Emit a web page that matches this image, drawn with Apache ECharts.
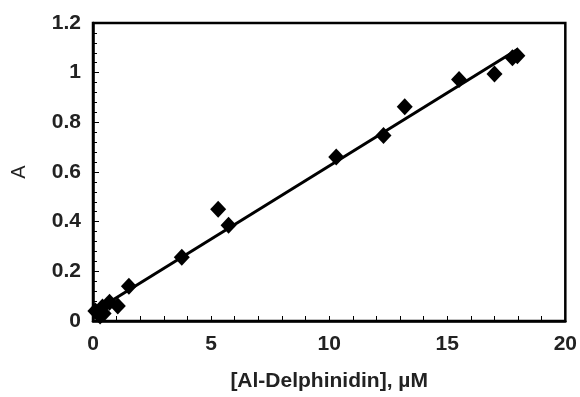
<!DOCTYPE html>
<html><head><meta charset="utf-8">
<script src="https://cdn.jsdelivr.net/npm/echarts@6/dist/echarts.min.js"></script>
<style>html,body{margin:0;padding:0;background:#fff}#c{width:580px;height:397px}</style>
</head><body><div id="c"></div>
<script>
const concX = [0.1, 0.3, 0.45, 0.4, 0.7, 1.05, 1.52, 3.76, 5.3, 5.74, 10.3, 12.3, 13.2, 15.5, 17.0, 17.76, 17.97];
const absY  = [0.04, 0.02, 0.03, 0.056, 0.076, 0.06, 0.14, 0.257, 0.45, 0.386, 0.66, 0.747, 0.863, 0.972, 0.995, 1.06, 1.068];
const fitX = [0.1, 18.0];
const fitY = [0.041, 1.095];
const xTicks = [0, 5, 10, 15, 20];
const yTicks = [0, 0.2, 0.4, 0.6, 0.8, 1, 1.2];

const chart = echarts.init(document.getElementById('c'), null, {renderer: 'canvas'});
const font = "'Liberation Sans', Arial, sans-serif";
chart.setOption({
  animation: false,
  grid: {left: 93, right: 13, top: 23, bottom: 75, show: true, borderColor: '#000', borderWidth: 2.5, backgroundColor: 'transparent'},
  xAxis: {
    type: 'value', min: xTicks[0], max: xTicks[xTicks.length-1], interval: 5,
    name: '[Al-Delphinidin], µM', nameLocation: 'middle', nameGap: 50,
    nameTextStyle: {fontFamily: font, fontSize: 21, fontWeight: 'bold', color: '#222'},
    axisLine: {show: true, lineStyle: {color: '#000', width: 2.5}},
    axisTick: {show: true, inside: true, length: 5, lineStyle: {color: '#000', width: 1}},
    minorTick: {show: true, splitNumber: 5, length: 5, lineStyle: {color: '#000', width: 1}},
    axisLabel: {fontFamily: font, fontSize: 21, fontWeight: 'bold', color: '#222', margin: 13,
      formatter: v => xTicks.includes(v) ? String(v) : ''},
    splitLine: {show: false}
  },
  yAxis: {
    type: 'value', min: yTicks[0], max: yTicks[yTicks.length-1], interval: 0.2,
    name: 'A', nameLocation: 'middle', nameGap: 64, nameRotate: 90,
    nameTextStyle: {fontFamily: font, fontSize: 20, color: '#222'},
    axisLine: {show: true, lineStyle: {color: '#000', width: 2.5}},
    axisTick: {show: true, inside: true, length: 6, lineStyle: {color: '#000', width: 1}},
    minorTick: {show: true, splitNumber: 5, length: 4, lineStyle: {color: '#000', width: 1}},
    axisLabel: {fontFamily: font, fontSize: 21, fontWeight: 'bold', color: '#222', margin: 12,
      formatter: v => { const r = Math.round(v*10)/10; return yTicks.includes(r) ? String(r) : ''; }},
    splitLine: {show: false}
  },
  series: [
    {type: 'line', data: fitX.map((x, i) => [x, fitY[i]]), symbol: 'none',
     lineStyle: {color: '#000', width: 3}, z: 2},
    {type: 'scatter', data: concX.map((x, i) => [x, absY[i]]), symbol: 'diamond', symbolSize: [16, 17],
     itemStyle: {color: '#000', opacity: 1}, z: 3}
  ]
});
</script></body></html>
